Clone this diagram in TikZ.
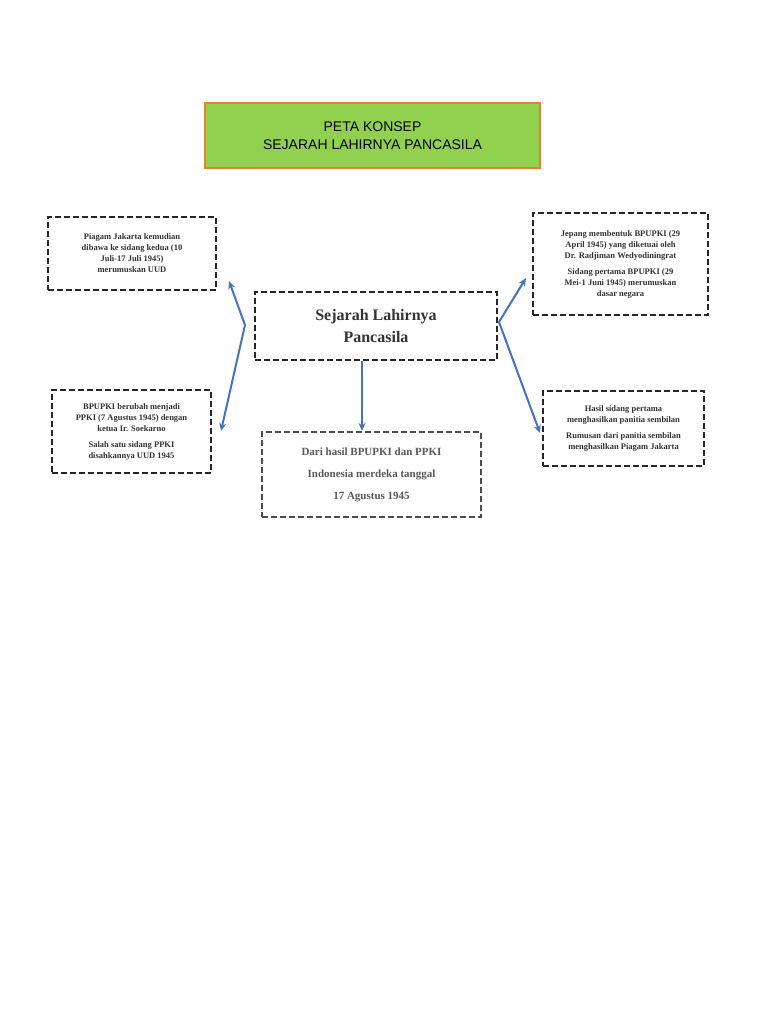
\documentclass[tikz,border=0pt]{standalone}
\usepackage{fontspec}
\usetikzlibrary{arrows.meta}
\setmainfont{Liberation Serif}
\newfontfamily\titlefont{Liberation Sans}
\begin{document}
\begin{tikzpicture}[x=1pt,y=-1pt,
  dbox/.style={draw=black!85,line width=2.2pt,dash pattern=on 6pt off 3pt,align=center,font=\bfseries\fontsize{8.5}{11}\selectfont,text=black!80,inner sep=0pt}]
\useasboundingbox (0,0) rectangle (768,1024);
\fill[white] (0,0) rectangle (768,1024);
\definecolor{tg}{HTML}{92D050}\definecolor{to}{HTML}{ED7D31}\definecolor{ab}{HTML}{4472C4}
\tikzset{arr/.style={draw=ab,line width=2pt,-{Stealth[length=8pt,width=7pt]}}}
\node[draw=to,fill=tg,line width=1.2pt,minimum width=335pt,minimum height=65pt,align=center,font=\titlefont\fontsize{14}{18}\selectfont] (title) at (372.5,135.5) {PETA KONSEP\\SEJARAH LAHIRNYA PANCASILA};
\node[dbox,minimum width=242pt,minimum height=68pt,font=\bfseries\fontsize{16}{22}\selectfont] (c) at (376,326) {Sejarah Lahirnya\\Pancasila};
\node[dbox,minimum width=168pt,minimum height=73pt] (tl) at (132,253.5) {Piagam Jakarta kemudian\\dibawa ke sidang kedua (10\\Juli-17 Juli 1945)\\merumuskan UUD};
\node[dbox,minimum width=159pt,minimum height=83pt] (bl) at (131.5,431.5) {BPUPKI berubah menjadi\\PPKI (7 Agustus 1945) dengan\\ketua Ir. Soekarno\\[5pt]Salah satu sidang PPKI\\disahkannya UUD 1945};
\node[dbox,minimum width=175pt,minimum height=102pt] (tr) at (620.5,264) {Jepang membentuk BPUPKI (29\\April 1945) yang diketuai oleh\\Dr. Radjiman Wedyodiningrat\\[5pt]Sidang pertama BPUPKI (29\\Mei-1 Juni 1945) merumuskan\\dasar negara};
\node[dbox,minimum width=161pt,minimum height=75pt] (br) at (623.5,428.5) {Hasil sidang pertama\\menghasilkan panitia sembilan\\[5pt]Rumusan dari panitia sembilan\\menghasilkan Piagam Jakarta};
\node[dbox,draw=black!70,minimum width=219pt,minimum height=85pt,font=\bfseries\fontsize{11}{22}\selectfont,text=black!65] (b) at (371.5,474.5) {Dari hasil BPUPKI dan PPKI\\Indonesia merdeka tanggal\\17 Agustus 1945};
\coordinate (lv) at (245,325);
\coordinate (rv) at (499,322);
\coordinate (tlp) at (229,281);
\coordinate (blp) at (221,431);
\coordinate (trp) at (526,278);
\coordinate (brp) at (540,433);
\draw[arr] (lv) -- (tlp);
\draw[arr] (lv) -- (blp);
\draw[arr] (rv) -- (trp);
\draw[arr] (rv) -- (brp);
\draw[arr] (c.south -| 362,0) -- (b.north -| 362,0);
\end{tikzpicture}
\end{document}
